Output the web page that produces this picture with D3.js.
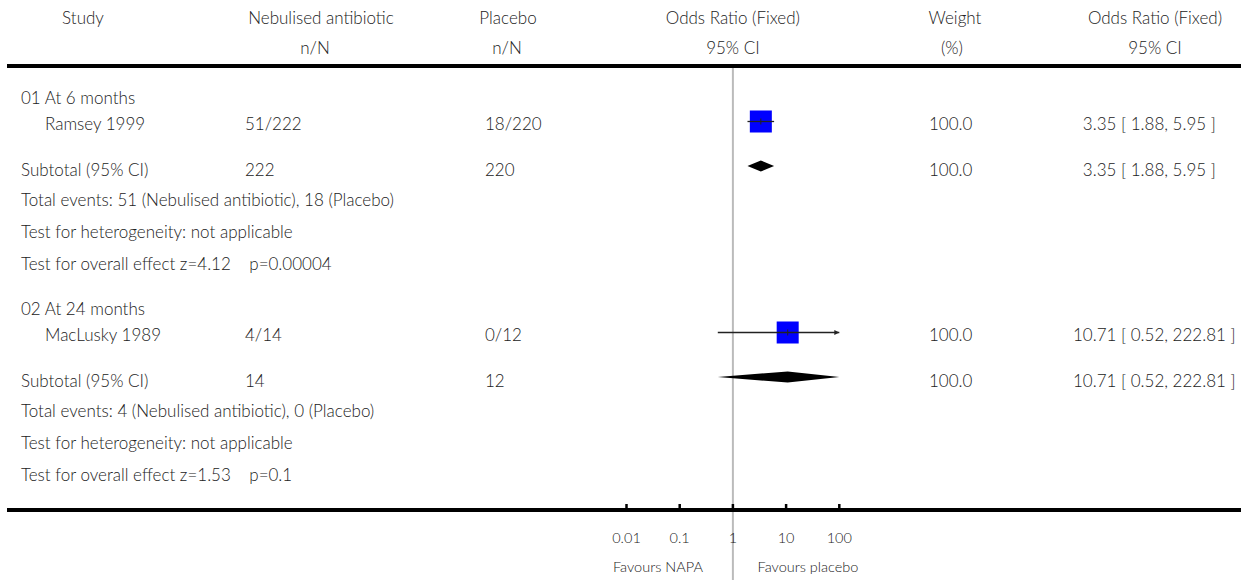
<!DOCTYPE html>
<html>
<head>
<meta charset="utf-8">
<script src="https://cdn.jsdelivr.net/npm/d3@7"></script>
<style>
  html, body { margin: 0; padding: 0; background: #fff; }
  svg text { font-family: "Lato", "Open Sans", sans-serif; font-weight: 300; fill: #222; }
</style>
</head>
<body>
<svg id="chart" width="1241" height="580"></svg>
<script>
// Forest plot: nebulised antibiotic vs placebo, odds ratio (fixed effect)
const groupLabels = ["01 At 6 months", "02 At 24 months"];
const studyNames = ["Ramsey 1999", "MacLusky 1989"];
const treatEvents = ["51/222", "4/14"];
const placeboEvents = ["18/220", "0/12"];
const treatTotals = [222, 14];
const placeboTotals = [220, 12];
const oddsRatio = [3.35, 10.71];
const ciLow = [1.88, 0.52];
const ciHigh = [5.95, 222.81];
const weights = [100.0, 100.0];
const totalEvents = [
  "Total events: 51 (Nebulised antibiotic), 18 (Placebo)",
  "Total events: 4 (Nebulised antibiotic), 0 (Placebo)"
];
const heterogeneity = ["Test for heterogeneity: not applicable", "Test for heterogeneity: not applicable"];
const overallEffect = ["Test for overall effect z=4.12\u00a0\u00a0\u00a0\u00a0p=0.00004", "Test for overall effect z=1.53\u00a0\u00a0\u00a0\u00a0p=0.1"];
const axisTicks = [0.01, 0.1, 1, 10, 100];
const axisTickLabels = ["0.01", "0.1", "1", "10", "100"];
const favourLabels = ["Favours NAPA", "Favours placebo"];

const svg = d3.select("#chart");
const W = 1241;

const x = d3.scaleLog().domain([0.01, 100]).range([626.5, 839.3]);
const boxSize = d3.scaleSqrt().domain([0, 100]).range([0, 22]);
// odds ratio text, padded with a figure space so the numbers line up
const fmtCI = (i) => {
  const or = oddsRatio[i].toFixed(2);
  return `${oddsRatio[i] < 10 ? "\u2007" : ""}${or} [ ${ciLow[i].toFixed(2)}, ${ciHigh[i].toFixed(2)} ]`;
};

// column positions
const col = { left: 21, study: 45, treat: 245, placebo: 485, weight: 929, ci: 1073 };
const fs = 17;

function txt(xp, yp, s, anchor = "start", size = fs) {
  svg.append("text").attr("x", xp).attr("y", yp).attr("dy", "0.35em")
    .attr("text-anchor", anchor).attr("font-size", size).text(s);
}

// header
txt(83, 18, "Study", "middle");
txt(321, 18, "Nebulised antibiotic", "middle");
txt(315, 48, "n/N", "middle");
txt(508, 18, "Placebo", "middle");
txt(507, 48, "n/N", "middle");
txt(x(1), 18, "Odds Ratio (Fixed)", "middle");
txt(x(1), 48, "95% CI", "middle");
txt(955, 18, "Weight", "middle");
txt(952, 48, "(%)", "middle");
txt(1155, 18, "Odds Ratio (Fixed)", "middle");
txt(1155, 48, "95% CI", "middle");

// no-effect line
svg.append("line").attr("x1", x(1)).attr("x2", x(1)).attr("y1", 68).attr("y2", 580)
  .attr("stroke", "#bbb").attr("stroke-width", 2);

// horizontal rules
svg.append("rect").attr("x", 7).attr("y", 64).attr("width", W - 7).attr("height", 4).attr("fill", "#000");
svg.append("rect").attr("x", 7).attr("y", 508).attr("width", W - 7).attr("height", 4).attr("fill", "#000");

// rows of each group
const groupTop = [98, 309];
const [xmin, xmax] = x.domain();

groupLabels.forEach((g, i) => {
  const y0 = groupTop[i];
  const yStudy = y0 + 26, ySub = y0 + 72, yTot = y0 + 102, yHet = y0 + 134, yOv = y0 + 166;
  txt(col.left, y0, g);
  txt(col.study, yStudy, studyNames[i]);
  txt(col.treat, yStudy, treatEvents[i]);
  txt(col.placebo, yStudy, placeboEvents[i]);
  txt(col.weight, yStudy, weights[i].toFixed(1));
  txt(col.ci, yStudy, fmtCI(i));

  txt(col.left, ySub, "Subtotal (95% CI)");
  txt(col.treat, ySub, treatTotals[i]);
  txt(col.placebo, ySub, placeboTotals[i]);
  txt(col.weight, ySub, weights[i].toFixed(1));
  txt(col.ci, ySub, fmtCI(i));

  txt(col.left, yTot, totalEvents[i]);
  txt(col.left, yHet, heterogeneity[i]);
  txt(col.left, yOv, overallEffect[i]);

  // marks sit slightly above the text centre line
  const ym = yStudy - 2.5, yd = ySub - 4;

  // study box
  const s = boxSize(weights[i]);
  svg.append("rect").attr("x", x(oddsRatio[i]) - s / 2).attr("y", ym - s / 2)
    .attr("width", s).attr("height", s).attr("fill", "#0000ff");

  // confidence interval line, clipped to the axis range with an arrow
  const lo = Math.max(ciLow[i], xmin), hi = Math.min(ciHigh[i], xmax);
  svg.append("line").attr("x1", x(lo)).attr("x2", x(hi)).attr("y1", ym).attr("y2", ym)
    .attr("stroke", "#222").attr("stroke-width", 1.3);
  svg.append("line").attr("x1", x(oddsRatio[i])).attr("x2", x(oddsRatio[i]))
    .attr("y1", ym - 3).attr("y2", ym + 3).attr("stroke", "#222").attr("stroke-width", 1);
  if (ciHigh[i] > xmax) {
    const ax = x(xmax);
    svg.append("path").attr("d", `M${ax},${ym} L${ax - 5},${ym - 2.5} L${ax - 5},${ym + 2.5} Z`).attr("fill", "#222");
  }
  if (ciLow[i] < xmin) {
    const ax = x(xmin);
    svg.append("path").attr("d", `M${ax},${ym} L${ax + 5},${ym - 2.5} L${ax + 5},${ym + 2.5} Z`).attr("fill", "#222");
  }

  // pooled diamond
  const dh = 5.5;
  svg.append("path")
    .attr("d", `M${x(lo)},${yd} L${x(oddsRatio[i])},${yd - dh} L${x(hi)},${yd} L${x(oddsRatio[i])},${yd + dh} Z`)
    .attr("fill", "#000");
});

// axis ticks
const axisY = 508;
axisTicks.forEach((t, i) => {
  svg.append("line").attr("x1", x(t)).attr("x2", x(t)).attr("y1", axisY - 4).attr("y2", axisY)
    .attr("stroke", "#000").attr("stroke-width", 2.5);
  txt(x(t), 538, axisTickLabels[i], "middle", 14.5);
});
txt(658, 567, favourLabels[0], "middle", 14.5);
txt(808, 567, favourLabels[1], "middle", 14.5);
</script>
</body>
</html>
